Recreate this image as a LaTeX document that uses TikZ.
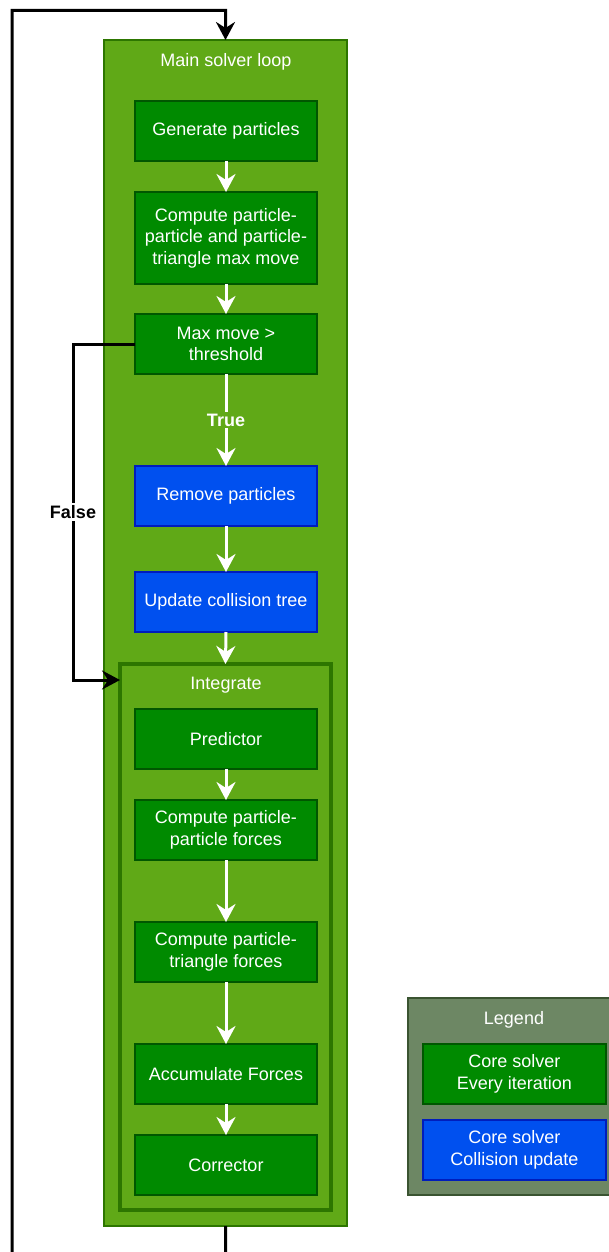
\documentclass[tikz,border=0pt]{standalone}
\usepackage{fontspec}
\setmainfont{Liberation Sans}
\usetikzlibrary{arrows.meta,calc}

\definecolor{loopgreen}{HTML}{60A917}
\definecolor{loopstroke}{HTML}{2D7600}
\definecolor{corefill}{HTML}{008A00}
\definecolor{corestroke}{HTML}{005700}
\definecolor{collfill}{HTML}{0050EF}
\definecolor{collstroke}{HTML}{001DBC}
\definecolor{legfill}{HTML}{6D8764}
\definecolor{legstroke}{HTML}{3A5431}

\tikzset{
  txt/.style={font=\fontsize{18}{21.6}\selectfont},
  corebox/.style={txt, rectangle, minimum width=182pt, minimum height=60pt,
    fill=corefill, draw=corestroke, line width=1.5pt, text=white, align=center,
    inner sep=0pt, outer sep=0pt},
  collbox/.style={corebox, fill=collfill, draw=collstroke},
  group/.style={rectangle, fill=loopgreen, draw=loopstroke, line width=1.5pt,
    inner sep=0pt, outer sep=0pt},
  grouptitle/.style={txt, text=white},
  edgelabel/.style={font=\fontsize{18}{21.6}\bfseries, inner sep=2pt},
  whiteflow/.style={draw=white, line width=3pt,
    -{Stealth[length=18pt,width=19pt,inset=6pt]}},
  blackflow/.style={draw=black, line width=3pt,
    -{Stealth[length=18pt,width=19pt,inset=6pt]}},
}

\begin{document}
\begin{tikzpicture}[x=1pt,y=-1pt]
\useasboundingbox (0,0) rectangle (609,1252);
\clip (0,0) rectangle (609,1252);

% containers
\node[group, minimum width=243pt, minimum height=1186pt] (main) at (225.5,633) {};
\node[grouptitle] (maintitle) at (226,62) {Main solver loop};
\node[group, line width=4.5pt, minimum width=211pt, minimum height=546pt] (integ) at (225.5,937) {};
\node[grouptitle] (integtitle) at (226,685) {Integrate};

% steps
\node[corebox] (gen) at (226,131) {Generate particles};
\node[corebox, minimum height=92pt] (cmp) at (226,238) {Compute particle-\\particle and particle-\\triangle max move};
\node[corebox] (maxm) at (226,344) {Max move >\\threshold};
\node[collbox] (rem) at (226,496) {Remove particles};
\node[collbox] (upd) at (226,602) {Update collision tree};
\node[corebox] (pred) at (226,739) {Predictor};
\node[corebox] (ppf) at (226,830) {Compute particle-\\particle forces};
\node[corebox] (ptf) at (226,952) {Compute particle-\\triangle forces};
\node[corebox] (acc) at (226,1074) {Accumulate Forces};
\node[corebox] (cor) at (226,1165) {Corrector};

% legend
\node[rectangle, fill=legfill, draw=legstroke, line width=1.5pt, inner sep=0pt,
  minimum width=212pt, minimum height=197pt] (legend) at (514,1096.5) {};
\node[grouptitle] (legtitle) at (514,1020) {Legend};
\node[corebox, minimum width=183pt] (leg1) at (514.5,1074) {Core solver\\Every iteration};
\node[collbox, minimum width=183pt] (leg2) at (514.5,1150) {Core solver\\Collision update};

% flow inside the loop
\draw[whiteflow] (gen) -- (cmp);
\draw[whiteflow] (cmp) -- (maxm);
\draw[whiteflow] (maxm) -- node[edgelabel, text=white, fill=loopgreen] {True} (rem);
\draw[whiteflow] (rem) -- (upd);
\draw[whiteflow] (upd.south) -- (integ.north);
\draw[whiteflow] (pred) -- (ppf);
\draw[whiteflow] (ppf) -- (ptf);
\draw[whiteflow] (ptf) -- (acc);
\draw[whiteflow] (acc) -- (cor);

% skip branch
\coordinate (fbend) at (73,344);
\coordinate (fin) at (120,680);
\draw[blackflow] (maxm.west) -- (fbend)
  -- node[edgelabel, text=black, fill=white] {False} (fbend |- fin) -- (fin);

% outer iteration loop
\coordinate (lb) at (226,1290);
\coordinate (ll) at (12,1290);
\coordinate (lt) at (12,10.5);
\draw[blackflow] (main.south) -- (lb) -- (ll) -- (lt) -| (main.north);
\end{tikzpicture}
\end{document}
